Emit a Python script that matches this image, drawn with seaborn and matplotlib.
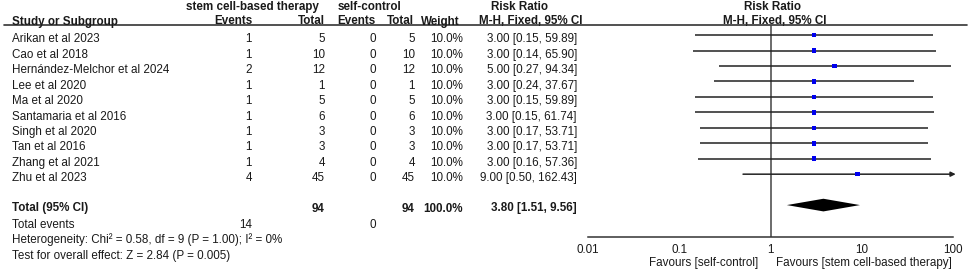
import numpy as np
import pandas as pd
import seaborn as sns
import matplotlib.pyplot as plt

sns.set_style('white')
plt.rcParams['font.family'] = ['Liberation Sans', 'DejaVu Sans']

# %%
studies = ['Arikan et al 2023', 'Cao et al 2018', 'Hernández-Melchor et al 2024',
           'Lee et al 2020', 'Ma et al 2020', 'Santamaria et al 2016',
           'Singh et al 2020', 'Tan et al 2016', 'Zhang et al 2021', 'Zhu et al 2023']
exp_events = [1, 1, 2, 1, 1, 1, 1, 1, 1, 4]
exp_total = [5, 10, 12, 1, 5, 6, 3, 3, 4, 45]
ctrl_events = [0, 0, 0, 0, 0, 0, 0, 0, 0, 0]
ctrl_total = [5, 10, 12, 1, 5, 6, 3, 3, 4, 45]
weights = [10.0] * 10
rr = [3.00, 3.00, 5.00, 3.00, 3.00, 3.00, 3.00, 3.00, 3.00, 9.00]
ci_lo = [0.15, 0.14, 0.27, 0.24, 0.15, 0.15, 0.17, 0.17, 0.16, 0.50]
ci_hi = [59.89, 65.90, 94.34, 37.67, 59.89, 61.74, 53.71, 53.71, 57.36, 162.43]

pooled = [3.80, 1.51, 9.56]
tot_exp, tot_ctrl = 94, 94
tot_events_exp, tot_events_ctrl = 14, 0
heterogeneity = 'Heterogeneity: Chi² = 0.58, df = 9 (P = 1.00); I² = 0%'
overall = 'Test for overall effect: Z = 2.84 (P = 0.005)'
xticks = [0.01, 0.1, 1, 10, 100]
xticklabels = ['0.01', '0.1', '1', '10', '100']

df = pd.DataFrame({'study': studies, 'rr': rr, 'lo': ci_lo, 'hi': ci_hi})
df['row'] = np.arange(len(df))

# %%
W, H = 969, 271
ROW0, ROWH = 39.3, 15.45


def row_of(px):
    return (px - ROW0) / ROWH


fig = plt.figure(figsize=(W / 100, H / 100), dpi=100)
tab = fig.add_axes([0, 0, 1, 1])
tab.set_xlim(0, W)
tab.set_ylim(row_of(H), row_of(0))
tab.axis('off')

fs = 8.35
tc = '#1a1a1a'


def txt(x, y, s, ha='left', bold=False):
    tab.text(x, y, s, ha=ha, va='center', fontsize=fs, color=tc,
             fontweight='bold' if bold else 'normal')


# headers
top, sub = row_of(7), row_of(21.5)
txt(252, top, 'stem cell-based therapy', ha='center', bold=True)
txt(369.5, top, 'self-control', ha='center', bold=True)
txt(520, top, 'Risk Ratio', ha='center', bold=True)
txt(773, top, 'Risk Ratio', ha='center', bold=True)
txt(11.7, sub, 'Study or Subgroup', bold=True)
txt(253, sub, 'Events', ha='right', bold=True)
txt(325, sub, 'Total', ha='right', bold=True)
txt(376, sub, 'Events', ha='right', bold=True)
txt(414, sub, 'Total', ha='right', bold=True)
txt(460, sub, 'Weight', ha='right', bold=True)
txt(530.5, sub, 'M-H, Fixed, 95% CI', ha='center', bold=True)
txt(775, sub, 'M-H, Fixed, 95% CI', ha='center', bold=True)
tab.plot([4, 967], [row_of(25.3)] * 2, color='#333333', lw=1.2)

# study rows
for i in range(len(studies)):
    txt(11.7, i, studies[i])
    txt(252, i, str(exp_events[i]), ha='right')
    txt(325, i, str(exp_total[i]), ha='right')
    txt(376, i, str(ctrl_events[i]), ha='right')
    txt(415, i, str(ctrl_total[i]), ha='right')
    txt(463, i, f'{weights[i]:.1f}%', ha='right')
    txt(577, i, f'{rr[i]:.2f} [{ci_lo[i]:.2f}, {ci_hi[i]:.2f}]', ha='right')

# totals
r_tot = row_of(208.5)
txt(11.7, r_tot, 'Total (95% CI)', bold=True)
txt(325, r_tot, str(tot_exp), ha='right', bold=True)
txt(415, r_tot, str(tot_ctrl), ha='right', bold=True)
txt(463, r_tot, f'{sum(weights):.1f}%', ha='right', bold=True)
txt(577, r_tot, f'{pooled[0]:.2f} [{pooled[1]:.2f}, {pooled[2]:.2f}]', ha='right', bold=True)
r_ev = row_of(225.5)
txt(11.7, r_ev, 'Total events')
txt(252, r_ev, str(tot_events_exp), ha='right')
txt(376, r_ev, str(tot_events_ctrl), ha='right')
txt(11.7, row_of(240), heterogeneity)
txt(11.7, row_of(256.5), overall)

r_fav = row_of(263)
txt(758, r_fav, 'Favours [self-control]', ha='right')
txt(776.5, r_fav, 'Favours [stem cell-based therapy]')

# %%
# forest panel
x0, x1 = 588, 953
y_top, y_bot = 25.3, 236.7
ax = fig.add_axes([x0 / W, 1 - y_bot / H, (x1 - x0) / W, (y_bot - y_top) / H])
ax.set_xscale('log')
ax.set_xlim(xticks[0], xticks[-1])
ax.set_ylim(row_of(y_bot), row_of(y_top))
ax.patch.set_alpha(0)

off = -0.27
xmax = xticks[-1]
for _, r in df.iterrows():
    y = r['row'] + off
    if r['hi'] > xmax:
        # CI runs past the axis: arrow at the edge
        ax.annotate('', xy=(xmax * 1.07, y), xytext=(r['lo'], y),
                    annotation_clip=False,
                    arrowprops=dict(arrowstyle='-|>', color='#222222', lw=1.1,
                                    mutation_scale=7, shrinkA=0, shrinkB=0))
    else:
        ax.plot([r['lo'], r['hi']], [y, y], color='#222222', lw=1.1, solid_capstyle='butt')

sns.scatterplot(x=df['rr'], y=df['row'] + off, marker='s', s=11, color='#0000ee',
                edgecolor='none', ax=ax, legend=False, zorder=3)

yd = len(studies) + 1 + off
hh = 0.41
ax.fill([pooled[1], pooled[0], pooled[2], pooled[0]], [yd, yd - hh, yd, yd + hh],
        color='black', lw=0)

ax.axvline(1, color='#444444', lw=1.1, zorder=1)

for s in ['top', 'right', 'left']:
    ax.spines[s].set_visible(False)
ax.spines['bottom'].set_color('#333333')
ax.spines['bottom'].set_linewidth(1.1)
ax.set_xticks(xticks)
ax.set_xticklabels(xticklabels)
ax.minorticks_off()
ax.set_yticks([])
ax.tick_params(axis='x', direction='inout', length=6, width=1, color='#333333',
               labelsize=fs, labelcolor=tc, pad=2.5)
ax.set_xlabel('')
ax.set_ylabel('')

fig.savefig('out.png', dpi=100)
